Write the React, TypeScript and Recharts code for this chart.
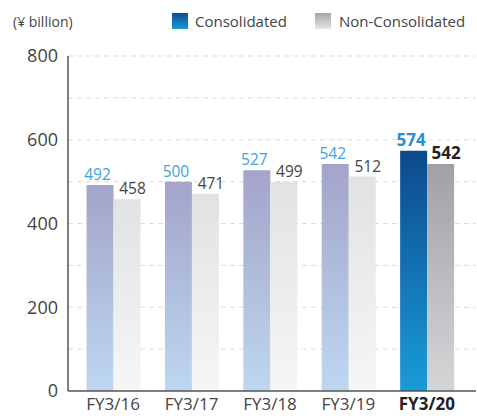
import { Bar, BarChart, CartesianGrid, Cell, LabelList, XAxis, YAxis } from "recharts";

const years = ["FY3/16", "FY3/17", "FY3/18", "FY3/19", "FY3/20"];
const consolidated = [492, 500, 527, 542, 574];
const nonConsolidated = [458, 471, 499, 512, 542];
const yTicks = [0, 200, 400, 600, 800];
const gridValues = [100, 200, 300, 400, 500, 600, 700, 800];

const data = years.map((year, i) => ({
  year,
  consolidated: consolidated[i],
  nonConsolidated: nonConsolidated[i],
}));
const last = years.length - 1;
const font = "'Open Sans', 'Noto Sans', sans-serif";

function XTick({ x, y, payload, index }: any) {
  const bold = index === last;
  return (
    <text x={x} y={y + 11} textAnchor="middle" fontSize={17} fontFamily={font}
      fontWeight={bold ? 700 : 400} fill={bold ? "#222" : "#444"}>
      {payload.value}
    </text>
  );
}

const makeLabel = (color: string, lastColor: string, shift: number) => (props: any) => {
  const { x, y, width, value, index } = props;
  const bold = index === last;
  return (
    <text x={x + width / 2 + shift} y={y - 5} textAnchor="middle" fontSize={bold ? 17 : 15.5}
      fontFamily={font} fontWeight={bold ? 700 : 400} fill={bold ? lastColor : color}>
      {value}
    </text>
  );
};

export default function App() {
  return (
    <div style={{ position: "absolute", left: 0, top: 0, width: 477, height: 416, fontFamily: font }}>
      <div style={{ position: "absolute", left: 13, top: 12, fontSize: 14, color: "#444" }}>(¥ billion)</div>
      <div style={{ position: "absolute", left: 172, top: 11, display: "flex", alignItems: "center", fontSize: 15, color: "#444" }}>
        <span style={{ width: 16, height: 16, background: "linear-gradient(#0b4b8e, #1a9ad8)", marginRight: 7 }} />
        <span>Consolidated</span>
        <span style={{ width: 16, height: 16, background: "linear-gradient(#a3a4a8, #e6e7e8)", marginLeft: 28, marginRight: 8 }} />
        <span>Non-Consolidated</span>
      </div>
      <BarChart width={477} height={416} data={data} margin={{ top: 56, right: 1, left: 8, bottom: 0 }}
        barCategoryGap="16%" barGap={0}>
        <defs>
          <linearGradient id="consPast" x1="0" y1="0" x2="0" y2="1">
            <stop offset="0%" stopColor="#a3a4c9" />
            <stop offset="100%" stopColor="#bdd7f0" />
          </linearGradient>
          <linearGradient id="consLast" x1="0" y1="0" x2="0" y2="1">
            <stop offset="0%" stopColor="#0b4a8c" />
            <stop offset="100%" stopColor="#1b9bd9" />
          </linearGradient>
          <linearGradient id="nonPast" x1="0" y1="0" x2="0" y2="1">
            <stop offset="0%" stopColor="#e1e2e2" />
            <stop offset="100%" stopColor="#f6f6f6" />
          </linearGradient>
          <linearGradient id="nonLast" x1="0" y1="0" x2="0" y2="1">
            <stop offset="0%" stopColor="#a0a1a5" />
            <stop offset="100%" stopColor="#d5d6d8" />
          </linearGradient>
        </defs>
        <CartesianGrid horizontalValues={gridValues} vertical={false} stroke="#dcdcdc" strokeDasharray="5 4" />
        <XAxis dataKey="year" height={25} padding={{ left: 6, right: 10 }} tick={<XTick />} tickLine={false}
          axisLine={{ stroke: "#555", strokeWidth: 1.5 }} interval={0} />
        <YAxis width={60} domain={[0, 800]} ticks={yTicks} tickLine={false} axisLine={{ stroke: "#555", strokeWidth: 1.5 }}
          tick={{ fontSize: 18, fill: "#444", fontFamily: font }} tickMargin={4} />
        <Bar dataKey="consolidated" isAnimationActive={false}>
          {data.map((_, i) => (
            <Cell key={i} fill={i === last ? "url(#consLast)" : "url(#consPast)"} />
          ))}
          <LabelList dataKey="consolidated" content={makeLabel("#3ba4dc", "#2a8fd0", -2.5)} />
        </Bar>
        <Bar dataKey="nonConsolidated" isAnimationActive={false}>
          {data.map((_, i) => (
            <Cell key={i} fill={i === last ? "url(#nonLast)" : "url(#nonPast)"} />
          ))}
          <LabelList dataKey="nonConsolidated" content={makeLabel("#444", "#222", 5.5)} />
        </Bar>
      </BarChart>
    </div>
  );
}
